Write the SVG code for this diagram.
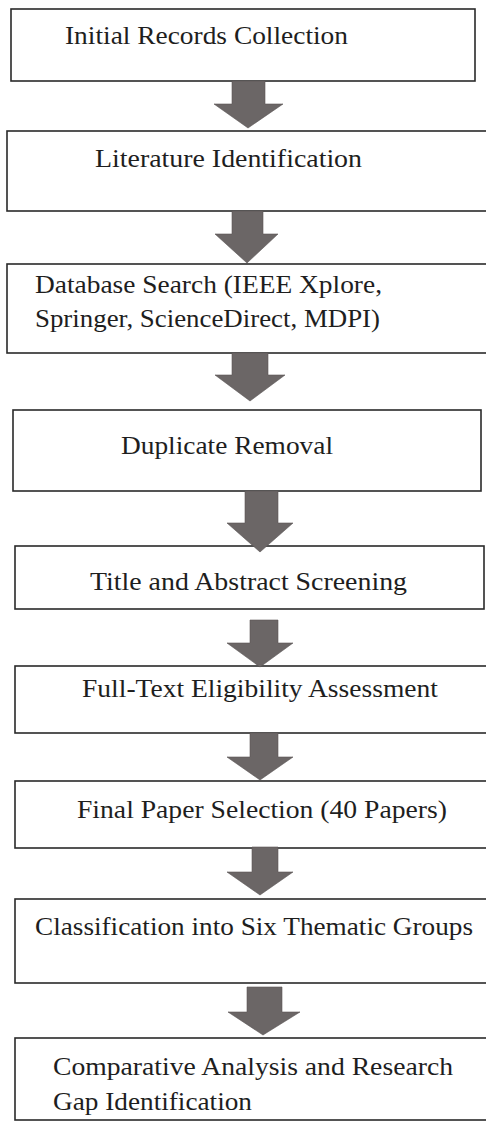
<svg xmlns="http://www.w3.org/2000/svg" width="486" height="1121" viewBox="0 0 486 1121">
  <style>
    .box { fill: #ffffff; stroke: #2a2a2a; stroke-width: 1.6; }
    .lbl { font-family: "Liberation Serif", "Times New Roman", serif; font-size: 26px; fill: #1e1e1e; }
    .arrow { fill: #6b6666; stroke: #5a5555; stroke-width: 0.6; }
  </style>
  <rect x="0" y="0" width="486" height="1121" fill="#ffffff"/>

  <!-- process steps -->
  <g id="step-initial-records">
    <rect class="box" x="11" y="9" width="464" height="72"/>
    <text class="lbl" x="65" y="43.5" textLength="283" lengthAdjust="spacingAndGlyphs">Initial Records Collection</text>
  </g>
  <g id="step-literature-identification">
    <rect class="box" x="7" y="131" width="490" height="80"/>
    <text class="lbl" x="95" y="167" textLength="267" lengthAdjust="spacingAndGlyphs">Literature Identification</text>
  </g>
  <g id="step-database-search">
    <rect class="box" x="7" y="264" width="490" height="89"/>
    <text class="lbl" x="35" y="293" textLength="347" lengthAdjust="spacingAndGlyphs">Database Search (IEEE Xplore,</text>
    <text class="lbl" x="35" y="327" textLength="345" lengthAdjust="spacingAndGlyphs">Springer, ScienceDirect, MDPI)</text>
  </g>
  <g id="step-duplicate-removal">
    <rect class="box" x="13" y="410" width="468" height="81"/>
    <text class="lbl" x="121" y="454" textLength="212" lengthAdjust="spacingAndGlyphs">Duplicate Removal</text>
  </g>
  <g id="step-title-abstract">
    <rect class="box" x="15" y="546" width="469" height="63"/>
    <text class="lbl" x="90" y="590" textLength="317" lengthAdjust="spacingAndGlyphs">Title and Abstract Screening</text>
  </g>
  <g id="step-full-text">
    <rect class="box" x="15" y="666" width="490" height="67"/>
    <text class="lbl" x="82" y="697" textLength="356" lengthAdjust="spacingAndGlyphs">Full-Text Eligibility Assessment</text>
  </g>
  <g id="step-final-selection">
    <rect class="box" x="15" y="781" width="490" height="67"/>
    <text class="lbl" x="77" y="818" textLength="370" lengthAdjust="spacingAndGlyphs">Final Paper Selection (40 Papers)</text>
  </g>
  <g id="step-classification">
    <rect class="box" x="15" y="899" width="490" height="84"/>
    <text class="lbl" x="35" y="935" textLength="438" lengthAdjust="spacingAndGlyphs">Classification into Six Thematic Groups</text>
  </g>
  <g id="step-comparative-analysis">
    <rect class="box" x="15" y="1038" width="490" height="82"/>
    <text class="lbl" x="53" y="1075" textLength="400" lengthAdjust="spacingAndGlyphs">Comparative Analysis and Research</text>
    <text class="lbl" x="53" y="1110" textLength="199" lengthAdjust="spacingAndGlyphs">Gap Identification</text>
  </g>

  <!-- block arrows between steps -->
  <g id="connectors">
    <polygon class="arrow" points="232,81 265,81 265,104 283,104 248,128 214,104 232,104"/>
    <polygon class="arrow" points="232,211 263,211 263,234 278,234 247,263 215,234 232,234"/>
    <polygon class="arrow" points="232,353 268,353 268,375 285,375 250,401 215,375 232,375"/>
    <polygon class="arrow" points="245,491 278,491 278,523 293,523 260,552 227,523 245,523"/>
    <polygon class="arrow" points="250,620 278,620 278,643 293,643 260,667 227,643 250,643"/>
    <polygon class="arrow" points="250,733 278,733 278,757 293,757 260,780 227,757 250,757"/>
    <polygon class="arrow" points="252,847 278,847 278,872 293,872 260,895 227,872 252,872"/>
    <polygon class="arrow" points="247,987 282,987 282,1012 300,1012 263,1035 228,1012 247,1012"/>
  </g>
</svg>
